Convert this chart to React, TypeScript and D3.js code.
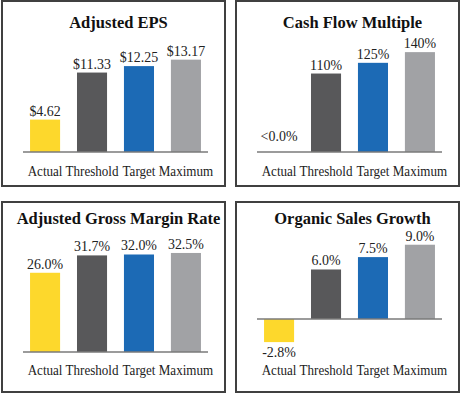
import React, { useEffect, useRef } from 'react';
import * as d3 from 'd3';

// data
const categories = ['Actual', 'Threshold', 'Target', 'Maximum'];

const epsTitle = 'Adjusted EPS';
const epsValues = [4.62, 11.33, 12.25, 13.17];
const epsLabels = ['$4.62', '$11.33', '$12.25', '$13.17'];

const cashTitle = 'Cash Flow Multiple';
const cashValues = [0, 110, 125, 140];
const cashLabels = ['<0.0%', '110%', '125%', '140%'];

const marginTitle = 'Adjusted Gross Margin Rate';
const marginValues = [26.0, 31.7, 32.0, 32.5];
const marginLabels = ['26.0%', '31.7%', '32.0%', '32.5%'];

const salesTitle = 'Organic Sales Growth';
const salesValues = [-2.8, 6.0, 7.5, 9.0];
const salesLabels = ['-2.8%', '6.0%', '7.5%', '9.0%'];

const barColors = ['#FDD82C', '#58585A', '#1C6AB5', '#A1A2A5'];

const W = 461;
const H = 394;
const FONT = '"Liberation Serif", "Times New Roman", serif';

const App = () => {
  const ref = useRef<SVGSVGElement | null>(null);

  useEffect(() => {
    const svg = d3.select(ref.current);
    svg.selectAll('*').remove();

    const panels = [
      { x: 2, y: 1, title: epsTitle, values: epsValues, labels: epsLabels, domain: [0, 15.83] },
      { x: 236, y: 1, title: cashTitle, values: cashValues, labels: cashLabels, domain: [0, 155.6] },
      { x: 2, y: 202, title: marginTitle, values: marginValues, labels: marginLabels, domain: [0, 36.1] },
      { x: 236, y: 202, title: salesTitle, values: salesValues, labels: salesLabels, domain: [-4, 9.33] },
    ];
    const pw = 223;

    panels.forEach((p, pi) => {
      const top = pi < 2;
      const g = svg.append('g').attr('transform', `translate(${p.x},${p.y})`);

      g.append('rect')
        .attr('x', 0)
        .attr('y', 0)
        .attr('width', pw)
        .attr('height', top ? 185 : 190)
        .attr('fill', '#fff')
        .attr('stroke', '#404040')
        .attr('stroke-width', 2);

      const x = d3.scaleBand<string>()
        .domain(categories)
        .range([21, 206])
        .paddingInner(0.36)
        .paddingOuter(0.15);

      const y = d3.scaleLinear()
        .domain(p.domain)
        .range([top ? 151 : 150, 40]);

      g.append('text')
        .attr('x', (21 + 206) / 2 + 3)
        .attr('y', top ? 27 : 22)
        .attr('text-anchor', 'middle')
        .attr('font-family', FONT)
        .attr('font-weight', 'bold')
        .attr('font-size', 16.5)
        .attr('fill', '#111')
        .text(p.title);

      g.selectAll('rect.bar')
        .data(p.values)
        .enter()
        .append('rect')
        .attr('class', 'bar')
        .attr('x', (d, i) => x(categories[i]) as number)
        .attr('y', d => y(Math.max(0, d)))
        .attr('width', x.bandwidth())
        .attr('height', d => Math.abs(y(d) - y(0)))
        .attr('fill', (d, i) => barColors[i]);

      g.append('line')
        .attr('x1', x.range()[0])
        .attr('x2', x.range()[1])
        .attr('y1', y(0))
        .attr('y2', y(0))
        .attr('stroke', '#7a7a7a')
        .attr('stroke-width', 1.5);

      g.selectAll('text.value')
        .data(p.values)
        .enter()
        .append('text')
        .attr('class', 'value')
        .attr('transform', (d, i) => {
          const cx = (x(categories[i]) as number) + x.bandwidth() / 2;
          const cy = d < 0 ? y(d) + 15 : y(d) - (d === 0 ? 11 : 4);
          return `translate(${cx},${cy}) scale(0.93,1)`;
        })
        .attr('text-anchor', 'middle')
        .attr('font-family', FONT)
        .attr('font-size', 15)
        .attr('fill', '#222')
        .text((d, i) => p.labels[i]);

      g.selectAll('text.cat')
        .data(categories)
        .enter()
        .append('text')
        .attr('class', 'cat')
        .attr('transform', d => {
          const cx = (x(d) as number) + x.bandwidth() / 2;
          return `translate(${cx},${top ? 175 : 173}) scale(0.9,1)`;
        })
        .attr('text-anchor', 'middle')
        .attr('font-family', FONT)
        .attr('font-size', 14.5)
        .attr('fill', '#222')
        .text(d => d);
    });
  }, []);

  return (
    <div style={{ position: 'fixed', left: 0, top: 0, background: '#fff' }}>
      <svg ref={ref} width={W} height={H} style={{ display: 'block' }} />
    </div>
  );
};

export default App;
